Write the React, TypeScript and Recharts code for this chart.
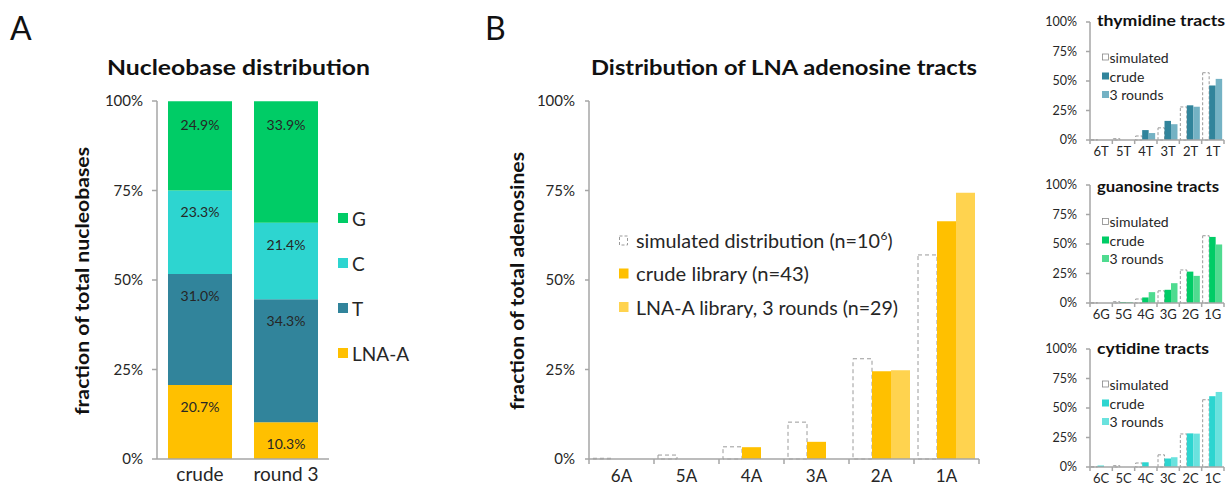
import React from 'react';
import { BarChart, Bar, XAxis, YAxis, LabelList } from 'recharts';

// ---------- data ----------
const nucleoCategories = ['crude', 'round 3'];
const nucleoLnaA = [20.7, 10.3];
const nucleoT = [31.0, 34.3];
const nucleoC = [23.3, 21.4];
const nucleoG = [24.9, 33.9];
const pctTicks = [0, 25, 50, 75, 100];

const adenCategories = ['6A', '5A', '4A', '3A', '2A', '1A'];
const simulated = [0.2, 1.1, 3.4, 10.3, 28.0, 57.0];
const adenCrude = [0, 0, 3.3, 4.8, 24.5, 66.4];
const adenRounds = [0, 0, 0, 0, 24.8, 74.4];

const thyCategories = ['6T', '5T', '4T', '3T', '2T', '1T'];
const thyCrude = [0, 0, 8.4, 16.2, 29.4, 46.2];
const thyRounds = [0, 0, 5.9, 13.4, 28.2, 51.8];

const guaCategories = ['6G', '5G', '4G', '3G', '2G', '1G'];
const guaCrude = [0, 0.8, 4.7, 11.2, 26.6, 56.0];
const guaRounds = [0, 0.8, 9.2, 16.8, 23.0, 49.6];

const cytCategories = ['6C', '5C', '4C', '3C', '2C', '1C'];
const cytCrude = [1.2, 0, 4.0, 7.2, 28.5, 60.0];
const cytRounds = [0, 0, 0, 8.3, 28.3, 63.6];

const legendA = ['G', 'C', 'T', 'LNA-A'];
const legendB = ['simulated distribution (n=10', 'crude library (n=43)', 'LNA-A library, 3 rounds (n=29)'];
const legendSmall = ['simulated', 'crude', '3 rounds'];

// ---------- styles ----------
const FONT = 'Lato, "Open Sans", sans-serif';
const AX = '#A6A6A6';
const TXT = '#262626';
const C_G = '#00CC66';
const C_C = '#2DD5D0';
const C_T = '#31849B';
const C_A = '#FFC000';
const C_A2 = '#FFD34F';
const C_T2 = '#74B2C4';
const C_G2 = '#4FDB90';
const C_C2 = '#6AE2DE';
const SIM_STROKE = '#9A9A9A';

const nucleoData = nucleoCategories.map((cat, i) => ({
  cat, lnaA: nucleoLnaA[i], t: nucleoT[i], c: nucleoC[i], g: nucleoG[i],
}));
const tractData = (cats: string[], crude: number[], rounds: number[]) =>
  cats.map((cat, i) => ({ cat, sim: simulated[i], crude: crude[i], rounds: rounds[i] }));

const adenData = tractData(adenCategories, adenCrude, adenRounds);
const thyData = tractData(thyCategories, thyCrude, thyRounds);
const guaData = tractData(guaCategories, guaCrude, guaRounds);
const cytData = tractData(cytCategories, cytCrude, cytRounds);

const pctFmt = (v: number) => `${v}%`;
const lblFmt = (v: any) => `${Number(v).toFixed(1)}%`;

function makeTick(o: { axisY: number; bw: number; count: number; fontSize: number; baseline: number; tickLen: number; boundaries: boolean }) {
  return (props: any) => {
    const { x, payload, index } = props;
    return (
      <g>
        {o.boundaries && (
          <line x1={x - o.bw / 2} x2={x - o.bw / 2} y1={o.axisY} y2={o.axisY + o.tickLen} stroke={AX} strokeWidth={1.5} />
        )}
        {o.boundaries && index === o.count - 1 && (
          <line x1={x + o.bw / 2} x2={x + o.bw / 2} y1={o.axisY} y2={o.axisY + o.tickLen} stroke={AX} strokeWidth={1.5} />
        )}
        <text x={x} y={o.axisY + o.baseline} textAnchor="middle" fontSize={o.fontSize} fontFamily={FONT} fill={TXT}>
          {payload.value}
        </text>
      </g>
    );
  };
}

function PanelA() {
  const W = 345, H = 486;
  const lblStyle = { fontSize: 14, fill: TXT, fontFamily: FONT };
  return (
    <div style={{ position: 'absolute', left: 0, top: 0, width: W, height: H }}>
      <BarChart width={W} height={H} data={nucleoData} margin={{ top: 101, right: 16, bottom: 0, left: 97 }} barSize={64}>
        <XAxis dataKey="cat" height={27} axisLine={{ stroke: AX, strokeWidth: 1.5 }} tickLine={false} interval={0}
          tick={makeTick({ axisY: 459, bw: 86, count: 2, fontSize: 19, baseline: 22, tickLen: 0, boundaries: false })} />
        <YAxis width={60} domain={[0, 100]} ticks={pctTicks} tickFormatter={pctFmt} interval={0}
          axisLine={{ stroke: AX, strokeWidth: 1.5 }} tickLine={{ stroke: AX, strokeWidth: 1.5 }} tickSize={5} tickMargin={9}
          tick={{ fontSize: 15, fill: TXT, fontFamily: FONT }} />
        <Bar dataKey="lnaA" stackId="a" fill={C_A} isAnimationActive={false}>
          <LabelList dataKey="lnaA" position="insideTop" offset={17} formatter={lblFmt} style={lblStyle} />
        </Bar>
        <Bar dataKey="t" stackId="a" fill={C_T} isAnimationActive={false}>
          <LabelList dataKey="t" position="insideTop" offset={17} formatter={lblFmt} style={lblStyle} />
        </Bar>
        <Bar dataKey="c" stackId="a" fill={C_C} isAnimationActive={false}>
          <LabelList dataKey="c" position="insideTop" offset={17} formatter={lblFmt} style={lblStyle} />
        </Bar>
        <Bar dataKey="g" stackId="a" fill={C_G} isAnimationActive={false}>
          <LabelList dataKey="g" position="insideTop" offset={19} formatter={lblFmt} style={lblStyle} />
        </Bar>
      </BarChart>
    </div>
  );
}

function PanelB() {
  const W = 510, H = 486;
  return (
    <div style={{ position: 'absolute', left: 480, top: 0, width: W, height: H }}>
      <BarChart width={W} height={H} data={adenData} margin={{ top: 101, right: 11, bottom: 0, left: 49 }} barSize={19} barGap={0}>
        <XAxis dataKey="cat" height={27} axisLine={{ stroke: AX, strokeWidth: 1.5 }} tickLine={false} interval={0}
          tick={makeTick({ axisY: 459, bw: 65, count: 6, fontSize: 17, baseline: 22.5, tickLen: 5, boundaries: true })} />
        <YAxis width={60} domain={[0, 100]} ticks={pctTicks} tickFormatter={pctFmt} interval={0}
          axisLine={{ stroke: AX, strokeWidth: 1.5 }} tickLine={{ stroke: AX, strokeWidth: 1.5 }} tickSize={4} tickMargin={10}
          tick={{ fontSize: 15, fill: TXT, fontFamily: FONT }} />
        <Bar dataKey="sim" fill="#FFFFFF" stroke={SIM_STROKE} strokeWidth={1} strokeDasharray="4 3" isAnimationActive={false} />
        <Bar dataKey="crude" fill={C_A} isAnimationActive={false} />
        <Bar dataKey="rounds" fill={C_A2} isAnimationActive={false} />
      </BarChart>
    </div>
  );
}

function SmallPanel({ top, data, crudeColor, roundsColor }: { top: number; data: any[]; crudeColor: string; roundsColor: string }) {
  const W = 199, H = 152;
  return (
    <div style={{ position: 'absolute', left: 1030, top, width: W, height: H }}>
      <BarChart width={W} height={H} data={data} margin={{ top: 10, right: 5, bottom: 0, left: 10 }} barSize={6.5} barGap={0}>
        <XAxis dataKey="cat" height={24} axisLine={{ stroke: AX, strokeWidth: 1.5 }} tickLine={false} interval={0}
          tick={makeTick({ axisY: 128, bw: 134 / 6, count: 6, fontSize: 13, baseline: 16, tickLen: 4, boundaries: true })} />
        <YAxis width={50} domain={[0, 100]} ticks={pctTicks} tickFormatter={pctFmt} interval={0}
          axisLine={{ stroke: AX, strokeWidth: 1.5 }} tickLine={{ stroke: AX, strokeWidth: 1.5 }} tickSize={4} tickMargin={9}
          tick={{ fontSize: 12.5, fill: TXT, fontFamily: FONT }} />
        <Bar dataKey="sim" fill="#FFFFFF" stroke={SIM_STROKE} strokeWidth={1} strokeDasharray="3 2" isAnimationActive={false} />
        <Bar dataKey="crude" fill={crudeColor} isAnimationActive={false} />
        <Bar dataKey="rounds" fill={roundsColor} isAnimationActive={false} />
      </BarChart>
    </div>
  );
}

function Overlay() {
  const aColors = [C_G, C_C, C_T, C_A];
  const aRows = [218, 263, 308, 353];
  const bRows = [240.5, 273.5, 307];
  const bColors = [null, C_A, C_A2];
  const bLens = [244, 173, 262];
  const small = [
    { title: 'thymidine tracts', base: 26, len: 128, rows: [57, 76, 94.5], colors: [C_T, C_T2] },
    { title: 'guanosine tracts', base: 191.5, len: 122, rows: [221.5, 240, 258.5], colors: [C_G, C_G2] },
    { title: 'cytidine tracts', base: 354, len: 112, rows: [384, 403, 421.5], colors: [C_C, C_C2] },
  ];
  return (
    <svg width={1229} height={486} style={{ position: 'absolute', left: 0, top: 0, pointerEvents: 'none' }} fontFamily={FONT}>
      <text x={10} y={40} fontSize={32} fill="#111">A</text>
      <text x={485} y={40} fontSize={32} fill="#111">B</text>
      <text x={238.5} y={75} fontSize={21} fontWeight={700} textAnchor="middle" fill="#111" textLength={263} lengthAdjust="spacingAndGlyphs">Nucleobase distribution</text>
      <text x={784} y={75} fontSize={21} fontWeight={700} textAnchor="middle" fill="#111" textLength={386} lengthAdjust="spacingAndGlyphs">Distribution of LNA adenosine tracts</text>
      <text transform="translate(89,281) rotate(-90)" fontSize={19} fontWeight={700} textAnchor="middle" fill="#111" textLength={268} lengthAdjust="spacingAndGlyphs">fraction of total nucleobases</text>
      <text transform="translate(524,281) rotate(-90)" fontSize={19} fontWeight={700} textAnchor="middle" fill="#111" textLength={258} lengthAdjust="spacingAndGlyphs">fraction of total adenosines</text>

      {legendA.map((lab, i) => (
        <g key={lab}>
          <rect x={338} y={aRows[i] - 5} width={10} height={10} fill={aColors[i]} />
          <text x={352} y={aRows[i]} dominantBaseline="central" fontSize={19} fill={TXT}>{lab}</text>
        </g>
      ))}

      {legendB.map((lab, i) => (
        <g key={lab}>
          {i === 0 ? (
            <rect x={619.5} y={bRows[i] - 4.5} width={8} height={9} fill="#fff" stroke={SIM_STROKE} strokeDasharray="3 2" />
          ) : (
            <rect x={619} y={bRows[i] - 5} width={9.5} height={10} fill={bColors[i] as string} />
          )}
          <text x={636} y={bRows[i]} dominantBaseline="central" fontSize={19} fill={TXT} textLength={bLens[i]} lengthAdjust="spacingAndGlyphs">{lab}</text>
          {i === 0 && (
            <>
              <text x={880.5} y={bRows[i] - 5} dominantBaseline="central" fontSize={12} fill={TXT}>6</text>
              <text x={887.5} y={bRows[i]} dominantBaseline="central" fontSize={19} fill={TXT}>)</text>
            </>
          )}
        </g>
      ))}

      {small.map((p) => (
        <g key={p.title}>
          <text x={1097} y={p.base} fontSize={15} fontWeight={700} fill="#111" textLength={p.len} lengthAdjust="spacingAndGlyphs">{p.title}</text>
          {legendSmall.map((lab, i) => (
            <g key={lab}>
              {i === 0 ? (
                <rect x={1102.5} y={p.rows[i] - 3} width={6} height={6} fill="#fff" stroke="#888" strokeWidth={0.8} />
              ) : (
                <rect x={1102} y={p.rows[i] - 3.5} width={7} height={7} fill={p.colors[i - 1]} />
              )}
              <text x={1109.5} y={p.rows[i]} dominantBaseline="central" fontSize={14} fill={TXT}>{lab}</text>
            </g>
          ))}
        </g>
      ))}
    </svg>
  );
}

export default function App() {
  return (
    <div style={{ position: 'absolute', left: 0, top: 0, width: 1229, height: 486, background: '#fff', overflow: 'hidden' }}>
      <PanelA />
      <PanelB />
      <SmallPanel top={12} data={thyData} crudeColor={C_T} roundsColor={C_T2} />
      <SmallPanel top={175} data={guaData} crudeColor={C_G} roundsColor={C_G2} />
      <SmallPanel top={338.5} data={cytData} crudeColor={C_C} roundsColor={C_C2} />
      <Overlay />
    </div>
  );
}
